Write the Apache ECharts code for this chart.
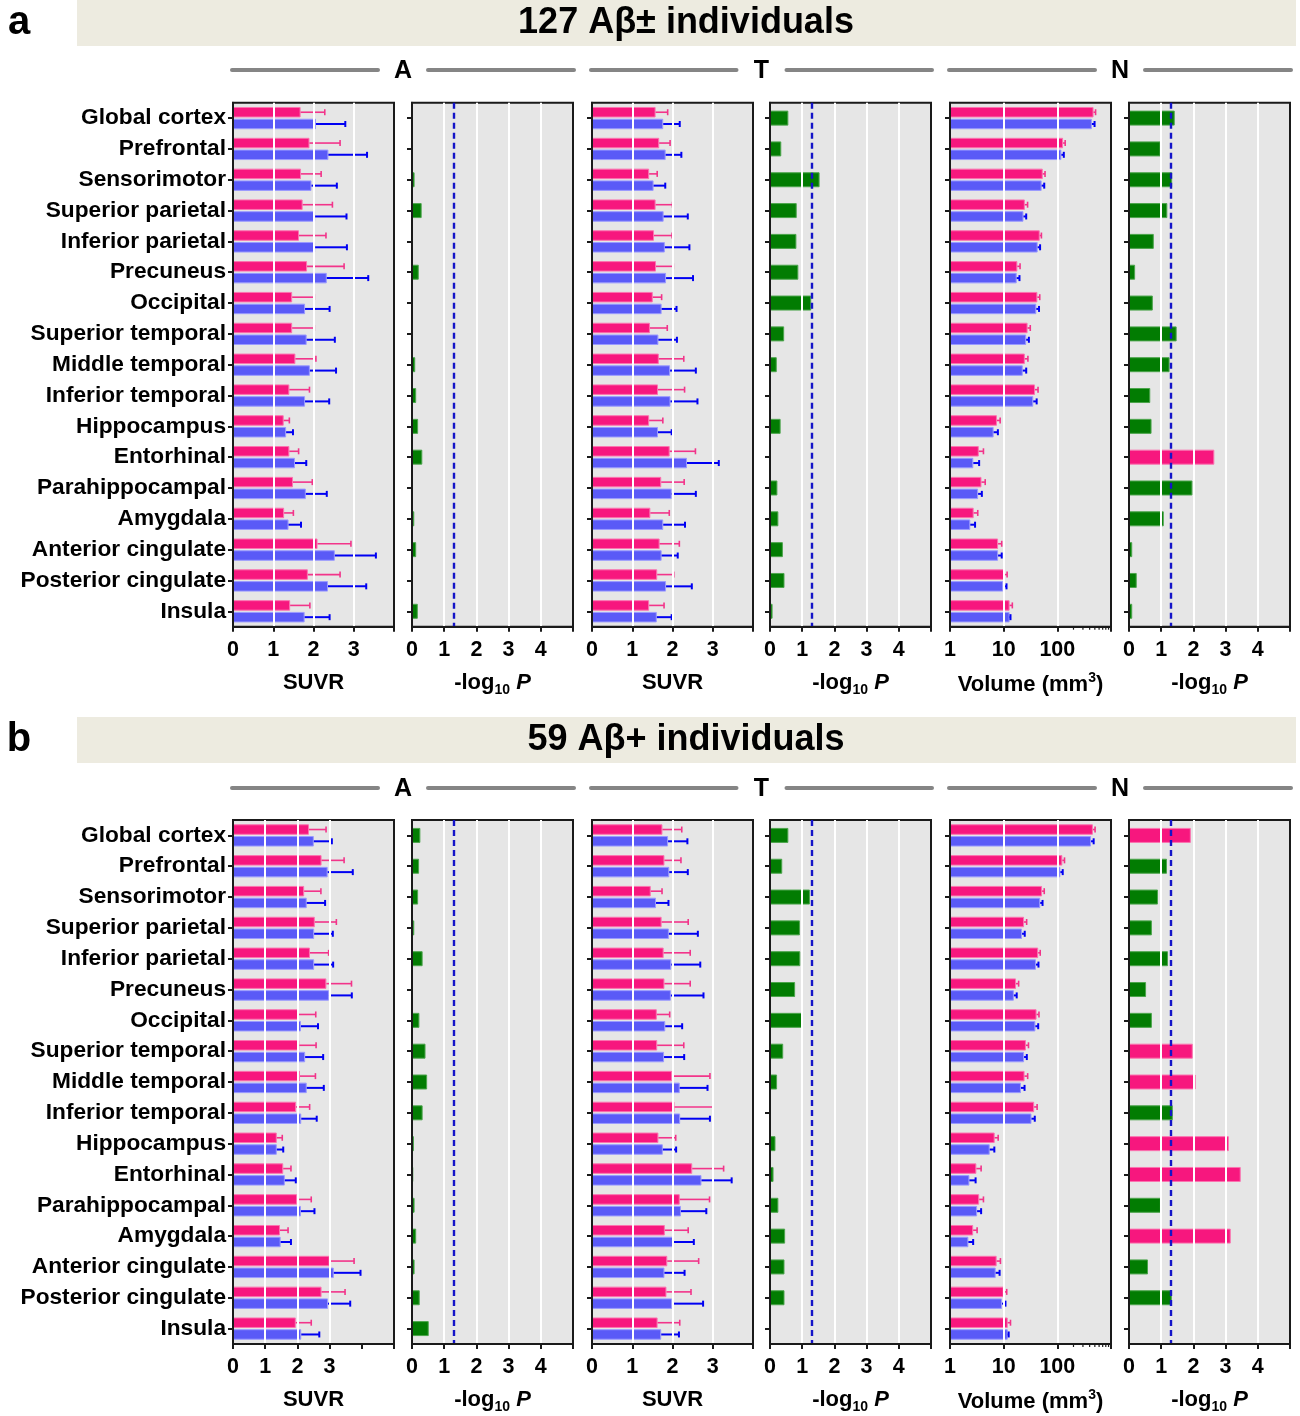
<!DOCTYPE html>
<html>
<head>
<meta charset="utf-8">
<script src="https://cdn.jsdelivr.net/npm/echarts/dist/echarts.min.js"></script>
<style>
  html, body { margin: 0; padding: 0; background: #ffffff; }
  #chart { width: 1300px; height: 1416px; }
</style>
</head>
<body>
<div id="chart"></div>
<script>
// ---------------- data ----------------
const regions = [
  'Global cortex', 'Prefrontal', 'Sensorimotor', 'Superior parietal', 'Inferior parietal',
  'Precuneus', 'Occipital', 'Superior temporal', 'Middle temporal', 'Inferior temporal',
  'Hippocampus', 'Entorhinal', 'Parahippocampal', 'Amygdala', 'Anterior cingulate',
  'Posterior cingulate', 'Insula'
];

// Cohort a: 127 Aβ± individuals
const aAmySuvrG1Mean = [1.68, 1.90, 1.69, 1.73, 1.64, 1.84, 1.47, 1.47, 1.55, 1.40, 1.26, 1.40, 1.49, 1.27, 2.10, 1.86, 1.42];
const aAmySuvrG1Sd   = [0.60, 0.76, 0.50, 0.74, 0.67, 0.92, 0.55, 0.55, 0.51, 0.50, 0.14, 0.23, 0.48, 0.23, 0.83, 0.80, 0.49];
const aAmySuvrG2Mean = [2.06, 2.37, 1.95, 2.04, 2.04, 2.33, 1.79, 1.83, 1.91, 1.79, 1.32, 1.54, 1.81, 1.38, 2.53, 2.36, 1.78];
const aAmySuvrG2Sd   = [0.73, 0.96, 0.63, 0.78, 0.79, 1.03, 0.61, 0.70, 0.65, 0.60, 0.17, 0.28, 0.52, 0.31, 1.02, 0.95, 0.62];
const aAmyLogP       = [0, 0, 0.08, 0.30, 0, 0.21, 0, 0, 0.10, 0.13, 0.19, 0.32, 0, 0.07, 0.13, 0, 0.18];
const aAmySig        = [0, 0, 0, 0, 0, 0, 0, 0, 0, 0, 0, 0, 0, 0, 0, 0, 0];

const aTauSuvrG1Mean = [1.58, 1.67, 1.42, 1.58, 1.54, 1.59, 1.51, 1.44, 1.66, 1.64, 1.42, 1.93, 1.72, 1.45, 1.68, 1.62, 1.42];
const aTauSuvrG1Sd   = [0.30, 0.27, 0.20, 0.42, 0.45, 0.43, 0.22, 0.43, 0.62, 0.66, 0.34, 0.64, 0.57, 0.47, 0.49, 0.41, 0.37];
const aTauSuvrG2Mean = [1.77, 1.83, 1.53, 1.78, 1.81, 1.84, 1.73, 1.65, 1.94, 1.95, 1.64, 2.36, 1.98, 1.77, 1.73, 1.84, 1.61];
const aTauSuvrG2Sd   = [0.41, 0.39, 0.29, 0.60, 0.61, 0.67, 0.37, 0.46, 0.64, 0.67, 0.34, 0.79, 0.60, 0.54, 0.40, 0.64, 0.37];
const aTauLogP       = [0.57, 0.35, 1.54, 0.83, 0.82, 0.88, 1.28, 0.44, 0.21, 0, 0.33, 0.03, 0.23, 0.26, 0.40, 0.45, 0.08];
const aTauSig        = [0, 0, 0, 0, 0, 0, 0, 0, 0, 0, 0, 0, 0, 0, 0, 0, 0];

const aVolG1Mean = [473, 128, 53.5, 24.8, 47, 18, 42.5, 27.9, 24.8, 38.4, 7.5, 3.44, 3.86, 2.76, 7.87, 10.2, 12.9];
const aVolG1Sd   = [43, 12, 5.5, 3.1, 3.5, 2.2, 4.5, 3.4, 3.5, 5.3, 1.1, 0.76, 0.67, 0.53, 1.33, 1.4, 1.6];
const aVolG2Mean = [440, 119, 51, 23.4, 43, 17.5, 40.6, 26.3, 22.7, 35.6, 6.5, 2.72, 3.34, 2.39, 7.87, 9.8, 12.9];
const aVolG2Sd   = [54, 13, 6, 2.9, 4.7, 2.2, 5.0, 3.2, 3.6, 5.6, 1.3, 0.77, 0.58, 0.54, 1.33, 1.5, 0.5];
const aVolLogP   = [1.42, 0.98, 1.34, 1.19, 0.77, 0.19, 0.74, 1.48, 1.26, 0.66, 0.70, 2.65, 1.97, 1.08, 0.10, 0.24, 0.10];
const aVolSig    = [0, 0, 0, 0, 0, 0, 0, 0, 0, 0, 0, 1, 0, 0, 0, 0, 0];

// Cohort b: 59 Aβ+ individuals
const bAmySuvrG1Mean = [2.36, 2.75, 2.21, 2.54, 2.39, 2.90, 2.02, 2.06, 2.08, 1.96, 1.36, 1.56, 1.99, 1.46, 3.00, 2.75, 1.95];
const bAmySuvrG1Sd   = [0.53, 0.70, 0.52, 0.67, 0.58, 0.78, 0.55, 0.52, 0.48, 0.42, 0.17, 0.24, 0.44, 0.25, 0.76, 0.73, 0.48];
const bAmySuvrG2Mean = [2.51, 2.94, 2.29, 2.52, 2.52, 2.98, 2.11, 2.24, 2.29, 2.12, 1.36, 1.61, 2.11, 1.48, 3.13, 2.95, 2.12];
const bAmySuvrG2Sd   = [0.56, 0.78, 0.57, 0.58, 0.59, 0.71, 0.53, 0.56, 0.53, 0.48, 0.20, 0.34, 0.42, 0.32, 0.83, 0.69, 0.56];
const bAmyLogP       = [0.26, 0.22, 0.19, 0.07, 0.33, 0, 0.23, 0.42, 0.47, 0.33, 0.06, 0.04, 0.08, 0.13, 0.08, 0.24, 0.52];
const bAmySig        = [0, 0, 0, 0, 0, 0, 0, 0, 0, 0, 0, 0, 0, 0, 0, 0, 0];

const bTauSuvrG1Mean = [1.75, 1.80, 1.46, 1.73, 1.78, 1.80, 1.61, 1.62, 1.99, 2.05, 1.65, 2.49, 2.18, 1.81, 1.87, 1.85, 1.63];
const bTauSuvrG1Sd   = [0.48, 0.41, 0.28, 0.66, 0.66, 0.64, 0.32, 0.66, 0.94, 0.96, 0.43, 0.78, 0.74, 0.58, 0.78, 0.61, 0.55];
const bTauSuvrG2Mean = [1.89, 1.92, 1.59, 1.91, 1.97, 1.96, 1.82, 1.79, 2.18, 2.19, 1.76, 2.72, 2.21, 2.03, 1.80, 1.99, 1.72];
const bTauSuvrG2Sd   = [0.48, 0.46, 0.31, 0.72, 0.72, 0.81, 0.42, 0.50, 0.69, 0.74, 0.33, 0.75, 0.63, 0.50, 0.50, 0.77, 0.44];
const bTauLogP       = [0.57, 0.38, 1.24, 0.93, 0.94, 0.78, 1.01, 0.41, 0.22, 0, 0.17, 0.11, 0.26, 0.47, 0.45, 0.45, 0];
const bTauSig        = [0, 0, 0, 0, 0, 0, 0, 0, 0, 0, 0, 0, 0, 0, 0, 0, 0];

const bVolG1Mean = [460, 124, 52, 24, 44, 17, 41, 26, 24.5, 37, 6.8, 3.1, 3.5, 2.7, 7.4, 10, 11.9];
const bVolG1Sd   = [45, 12, 5, 2.8, 4, 2, 4.5, 3, 3.5, 5, 1.1, 0.7, 0.7, 0.5, 1.3, 1.4, 1.5];
const bVolG2Mean = [425, 114, 48, 22, 40, 15.5, 39, 24, 21, 33, 5.5, 2.3, 3.2, 2.2, 7.1, 9.3, 11.9];
const bVolG2Sd   = [50, 12, 5, 2.7, 4.5, 2, 5, 3, 3.5, 5, 1.2, 0.7, 0.6, 0.5, 1.3, 1.5, 0.5];
const bVolLogP   = [1.92, 1.18, 0.90, 0.71, 1.21, 0.53, 0.71, 1.98, 2.07, 1.36, 3.10, 3.47, 0.99, 3.16, 0.59, 1.33, 0];
const bVolSig    = [1, 0, 0, 0, 0, 0, 0, 1, 1, 0, 1, 1, 0, 1, 0, 0, 0];

// axis settings and labels
const suvrTickLabels = [0, 1, 2, 3];
const logPTickLabels = [0, 1, 2, 3, 4];
const volumeTickLabels = [1, 10, 100];
const volumeMinorTicks = [200, 300, 400, 500, 600, 700, 800, 900];
const pThreshold = 1.3;  // -log10(0.05)

const panelLetters = ['a', 'b'];
const panelTitles = ['127 Aβ± individuals', '59 Aβ+ individuals'];
const groupHeaders = ['A', 'T', 'N'];

// ---------------- layout & style ----------------
const FONT = '"Liberation Sans", Arial, Helvetica, sans-serif';
const PINK = '#F7177E', PINK_EDGE = '#FB74B0', PINK_ERR = '#F2348A';
const BLUE = '#5A5AF7', BLUE_EDGE = '#9A9AFF', BLUE_ERR = '#0000F2';
const GREEN = '#027C02', GREEN_EDGE = '#4BA44B';
const PLOT_BG = '#E6E6E6', FRAME = '#1A1A1A';

const colLeft = [233, 412, 592, 770, 950, 1129];
const PLOT_W = 161;
const PLOT_H = 524;
const panelTop = [102.7, 820];
const bandY = [0, 717];
const headerY = [71, 789];

const BAR_W = 10.5, BAR_GAP = 0.12;
const BAR_OFFSET = BAR_W * (1 + BAR_GAP) / 2;
const CAP = 3;

const labelStyle = { color: '#000', fontFamily: FONT, fontWeight: 'bold' };

const grids = [], xAxes = [], yAxes = [], series = [];
let gridCount = 0;

function addGrid(p, col) {
  grids.push({
    left: colLeft[col], top: panelTop[p], width: PLOT_W, height: PLOT_H,
    show: true, backgroundColor: PLOT_BG, borderColor: FRAME, borderWidth: 2
  });
  yAxes.push({
    type: 'category', gridIndex: gridCount, data: regions, inverse: true, z: 5,
    axisLine: { show: true, lineStyle: { color: FRAME, width: 2 } },
    axisTick: { show: true, alignWithLabel: true, length: 5, lineStyle: { color: FRAME, width: 2 } },
    axisLabel: Object.assign({ show: col === 0, fontSize: 22.7, margin: 7 }, labelStyle),
    splitLine: { show: false }
  });
  return gridCount++;
}

const nameRich = {
  t: { fontFamily: FONT, fontWeight: 'bold', fontSize: 22, color: '#000', lineHeight: 28 },
  i: { fontFamily: FONT, fontWeight: 'bold', fontStyle: 'italic', fontSize: 22, color: '#000', lineHeight: 28 },
  sub: { fontFamily: FONT, fontWeight: 'bold', fontSize: 14, color: '#000', lineHeight: 14, verticalAlign: 'bottom' },
  sup: { fontFamily: FONT, fontWeight: 'bold', fontSize: 14, color: '#000', lineHeight: 14, verticalAlign: 'top' }
};

function linearAxis(g, max, labels, gridTop, name) {
  const gridColors = [];
  for (let v = 1; v < max; v++) gridColors.push(v <= gridTop ? '#FFFFFF' : 'rgba(0,0,0,0)');
  return {
    type: 'value', gridIndex: g, min: 0, max: max, interval: 1, z: 5,
    axisLine: { show: true, onZero: false, lineStyle: { color: FRAME, width: 2 } },
    axisTick: { show: true, length: 5, lineStyle: { color: FRAME, width: 2 } },
    axisLabel: Object.assign({
      fontSize: 21.5, margin: 12,
      formatter: v => (labels.indexOf(v) >= 0 ? String(v) : '')
    }, labelStyle),
    splitLine: { show: true, showMinLine: false, showMaxLine: false, lineStyle: { color: gridColors, width: 2 } },
    name: name, nameLocation: 'middle', nameGap: 42,
    nameTextStyle: { rich: nameRich }
  };
}

function volumeAxis(g) {
  return {
    type: 'log', logBase: 10, gridIndex: g, min: 1, max: 1000, z: 5,
    axisLine: { show: true, onZero: false, lineStyle: { color: FRAME, width: 2 } },
    axisTick: { show: true, length: 5, lineStyle: { color: FRAME, width: 2 } },
    axisLabel: Object.assign({
      fontSize: 21.5, margin: 12,
      formatter: v => (volumeTickLabels.indexOf(Math.round(v)) >= 0 ? String(Math.round(v)) : '')
    }, labelStyle),
    splitLine: { show: true, showMinLine: false, showMaxLine: false, lineStyle: { color: '#FFFFFF', width: 2 } },
    name: '{t|Volume (mm}{sup|3}{t|)}', nameLocation: 'middle', nameGap: 44,
    nameTextStyle: { rich: nameRich }
  };
}

function errorSeries(g, means, sds, side, color, lw) {
  return {
    type: 'custom', xAxisIndex: g, yAxisIndex: g, silent: true, animation: false, clip: false, z: 4,
    data: means.map((m, i) => [m + sds[i], i, m]),
    encode: { x: [0, 2], y: 1 },
    renderItem: (params, api) => {
      const a = api.coord([api.value(2), api.value(1)]);
      const b = api.coord([api.value(0), api.value(1)]);
      const y = a[1] + side * BAR_OFFSET;
      const style = { stroke: color, lineWidth: lw };
      return {
        type: 'group', children: [
          { type: 'line', shape: { x1: a[0], y1: y, x2: b[0], y2: y }, style: style },
          { type: 'line', shape: { x1: b[0], y1: y - CAP, x2: b[0], y2: y + CAP }, style: style }
        ]
      };
    }
  };
}

function measurePlot(p, col, axisBuilder, g1Mean, g1Sd, g2Mean, g2Sd) {
  const g = addGrid(p, col);
  xAxes.push(axisBuilder(g));
  series.push({
    type: 'bar', xAxisIndex: g, yAxisIndex: g, data: g1Mean, barWidth: BAR_W, barGap: (BAR_GAP * 100) + '%',
    itemStyle: { color: PINK, borderColor: PINK_EDGE, borderWidth: 1 }, silent: true, animation: false
  });
  series.push({
    type: 'bar', xAxisIndex: g, yAxisIndex: g, data: g2Mean, barWidth: BAR_W, barGap: (BAR_GAP * 100) + '%',
    itemStyle: { color: BLUE, borderColor: BLUE_EDGE, borderWidth: 1 }, silent: true, animation: false
  });
  series.push(errorSeries(g, g1Mean, g1Sd, -1, PINK_ERR, 1.6));
  series.push(errorSeries(g, g2Mean, g2Sd, 1, BLUE_ERR, 2));
  return g;
}

function pPlot(p, col, values, sig) {
  const g = addGrid(p, col);
  xAxes.push(linearAxis(g, 5, logPTickLabels, 4, '{t|-log}{sub|10}{t| }{i|P}'));
  series.push({
    type: 'bar', xAxisIndex: g, yAxisIndex: g, barWidth: 15, silent: true, animation: false,
    data: values.map((v, i) => ({
      value: v,
      itemStyle: sig[i] ? { color: PINK, borderColor: PINK_EDGE, borderWidth: 1 }
                        : { color: GREEN, borderColor: GREEN_EDGE, borderWidth: 1 }
    })),
    markLine: {
      silent: true, animation: false, symbol: ['none', 'none'], label: { show: false },
      lineStyle: { color: '#1414C8', type: [6, 4], width: 2.4 },
      data: [{ xAxis: pThreshold }]
    }
  });
}

function volumeMinorTickSeries(g) {
  series.push({
    type: 'custom', xAxisIndex: g, yAxisIndex: g, silent: true, animation: false, clip: false, z: 6,
    data: volumeMinorTicks.map(v => [v, 0]),
    encode: { x: 0, y: 1 },
    renderItem: (params, api) => {
      const x = api.coord([api.value(0), 0])[0];
      const cs = params.coordSys;
      const yb = cs.y + cs.height;
      return { type: 'line', shape: { x1: x, y1: yb, x2: x, y2: yb + 3 }, style: { stroke: FRAME, lineWidth: 1.2 } };
    }
  });
}

const cohorts = [
  { amy: [aAmySuvrG1Mean, aAmySuvrG1Sd, aAmySuvrG2Mean, aAmySuvrG2Sd], amyP: aAmyLogP, amySig: aAmySig, amyMax: 4,
    tau: [aTauSuvrG1Mean, aTauSuvrG1Sd, aTauSuvrG2Mean, aTauSuvrG2Sd], tauP: aTauLogP, tauSig: aTauSig,
    vol: [aVolG1Mean, aVolG1Sd, aVolG2Mean, aVolG2Sd], volP: aVolLogP, volSig: aVolSig },
  { amy: [bAmySuvrG1Mean, bAmySuvrG1Sd, bAmySuvrG2Mean, bAmySuvrG2Sd], amyP: bAmyLogP, amySig: bAmySig, amyMax: 5,
    tau: [bTauSuvrG1Mean, bTauSuvrG1Sd, bTauSuvrG2Mean, bTauSuvrG2Sd], tauP: bTauLogP, tauSig: bTauSig,
    vol: [bVolG1Mean, bVolG1Sd, bVolG2Mean, bVolG2Sd], volP: bVolLogP, volSig: bVolSig }
];

cohorts.forEach((c, p) => {
  measurePlot(p, 0, g => linearAxis(g, c.amyMax, suvrTickLabels, 3, '{t|SUVR}'), ...c.amy);
  pPlot(p, 1, c.amyP, c.amySig);
  measurePlot(p, 2, g => linearAxis(g, 4, suvrTickLabels, 3, '{t|SUVR}'), ...c.tau);
  pPlot(p, 3, c.tauP, c.tauSig);
  const gv = measurePlot(p, 4, volumeAxis, ...c.vol);
  volumeMinorTickSeries(gv);
  pPlot(p, 5, c.volP, c.volSig);
});

// ---------------- titles & headers ----------------
const graphics = [];
for (let p = 0; p < 2; p++) {
  graphics.push({
    type: 'rect', silent: true, shape: { x: 77, y: bandY[p], width: 1219, height: 46 },
    style: { fill: '#EDEBE0' }
  });
  graphics.push({
    type: 'text', silent: true, x: 686, y: bandY[p] + 23,
    style: { text: panelTitles[p], font: 'bold 36px ' + FONT, fill: '#000', align: 'center', verticalAlign: 'middle' }
  });
  graphics.push({
    type: 'text', silent: true, x: 19, y: bandY[p] + 23,
    style: { text: panelLetters[p], font: 'bold 40px ' + FONT, fill: '#000', align: 'center', verticalAlign: 'middle' }
  });
  groupHeaders.forEach((h, k) => {
    const x0 = colLeft[2 * k] - 1;
    const x1 = colLeft[2 * k + 1] + PLOT_W + 1;
    const cx = (x0 + x1) / 2;
    const y = headerY[p];
    graphics.push({
      type: 'line', silent: true, shape: { x1: x0, y1: y - 1, x2: cx - 25, y2: y - 1 },
      style: { stroke: '#858585', lineWidth: 4, lineCap: 'round' }
    });
    graphics.push({
      type: 'line', silent: true, shape: { x1: cx + 25, y1: y - 1, x2: x1, y2: y - 1 },
      style: { stroke: '#858585', lineWidth: 4, lineCap: 'round' }
    });
    graphics.push({
      type: 'text', silent: true, x: cx, y: y,
      style: { text: h, font: 'bold 25px ' + FONT, fill: '#000', align: 'center', verticalAlign: 'middle' }
    });
  });
}

const chart = echarts.init(document.getElementById('chart'), null, { renderer: 'canvas', width: 1300, height: 1416 });
chart.setOption({
  animation: false,
  backgroundColor: '#FFFFFF',
  grid: grids,
  xAxis: xAxes,
  yAxis: yAxes,
  series: series,
  graphic: graphics
});
</script>
</body>
</html>
